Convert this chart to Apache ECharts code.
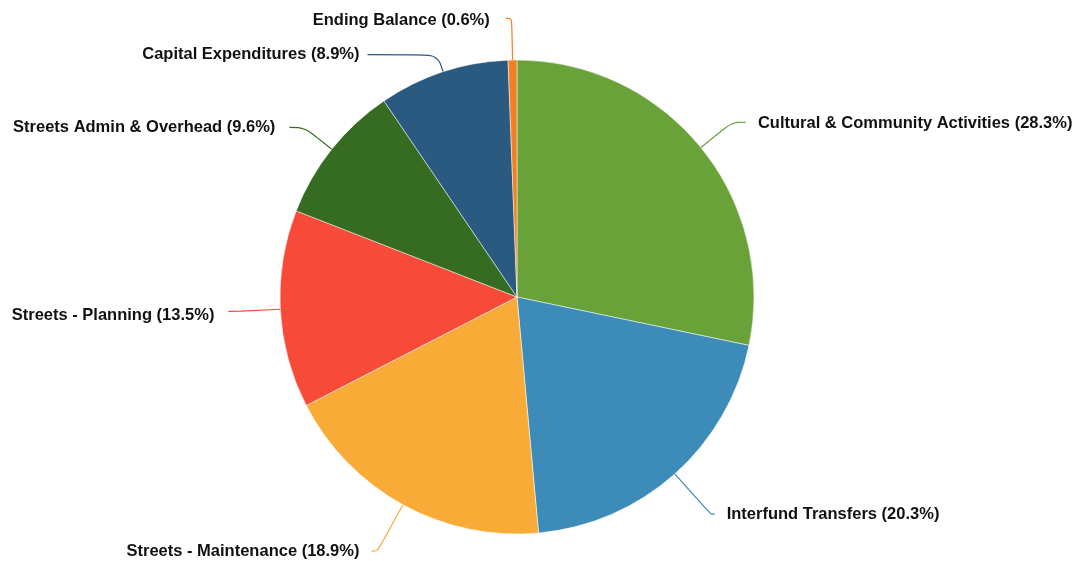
<!DOCTYPE html>
<html>
<head>
<meta charset="utf-8">
<script src="https://cdn.jsdelivr.net/npm/echarts@6/dist/echarts.min.js"></script>
<style>
  html, body { margin: 0; padding: 0; background: #fff; }
  #main { width: 1081px; height: 561px; }
</style>
</head>
<body>
<div id="main"></div>
<script>
var categories = ['Cultural & Community Activities', 'Interfund Transfers', 'Streets - Maintenance',
  'Streets - Planning', 'Streets Admin & Overhead', 'Capital Expenditures', 'Ending Balance'];
var shares = [28.3, 20.3, 18.9, 13.5, 9.6, 8.9, 0.6];
var colors = ['#6aa23a', '#3d8bb8', '#f8ac37', '#f84a38', '#366b22', '#2b5a80', '#f57e20'];

// label line shape per slice: [first segment, second segment, gap to text, text nudge down]
var leaderLines = [[40, 14, 12, 1], [54, 4, 12, 0], [53, 6, 12, 0], [40, 12, 14, 4], [35, 15, 14, 0], [18, 70, 8, 0], [42, 6, 16, 2]];

var myChart = echarts.init(document.getElementById('main'));

var option = {
  animation: false,
  color: colors,
  series: [
    {
      type: 'pie',
      center: [517, 297],
      radius: 237,
      startAngle: 90,
      clockwise: true,
      avoidLabelOverlap: false,
      itemStyle: { borderColor: '#fff', borderWidth: 0.5 },
      label: {
        show: true,
        color: '#111',
        fontFamily: 'Liberation Sans, Arial, sans-serif',
        fontWeight: 'bold',
        fontSize: 16.5,
        formatter: function (p) { return p.name + ' (' + p.value.toFixed(1) + '%)'; }
      },
      labelLine: {
        show: true,
        smooth: 0.35,
        lineStyle: { width: 1.2 }
      },
      labelLayout: function (p) {
        return { dy: leaderLines[p.dataIndex][3] };
      },
      data: categories.map(function (c, i) {
        var l = leaderLines[i];
        return {
          name: c,
          value: shares[i],
          label: { distanceToLabelLine: l[2] },
          labelLine: { length: l[0], length2: l[1] }
        };
      })
    }
  ]
};

myChart.setOption(option);
</script>
</body>
</html>
